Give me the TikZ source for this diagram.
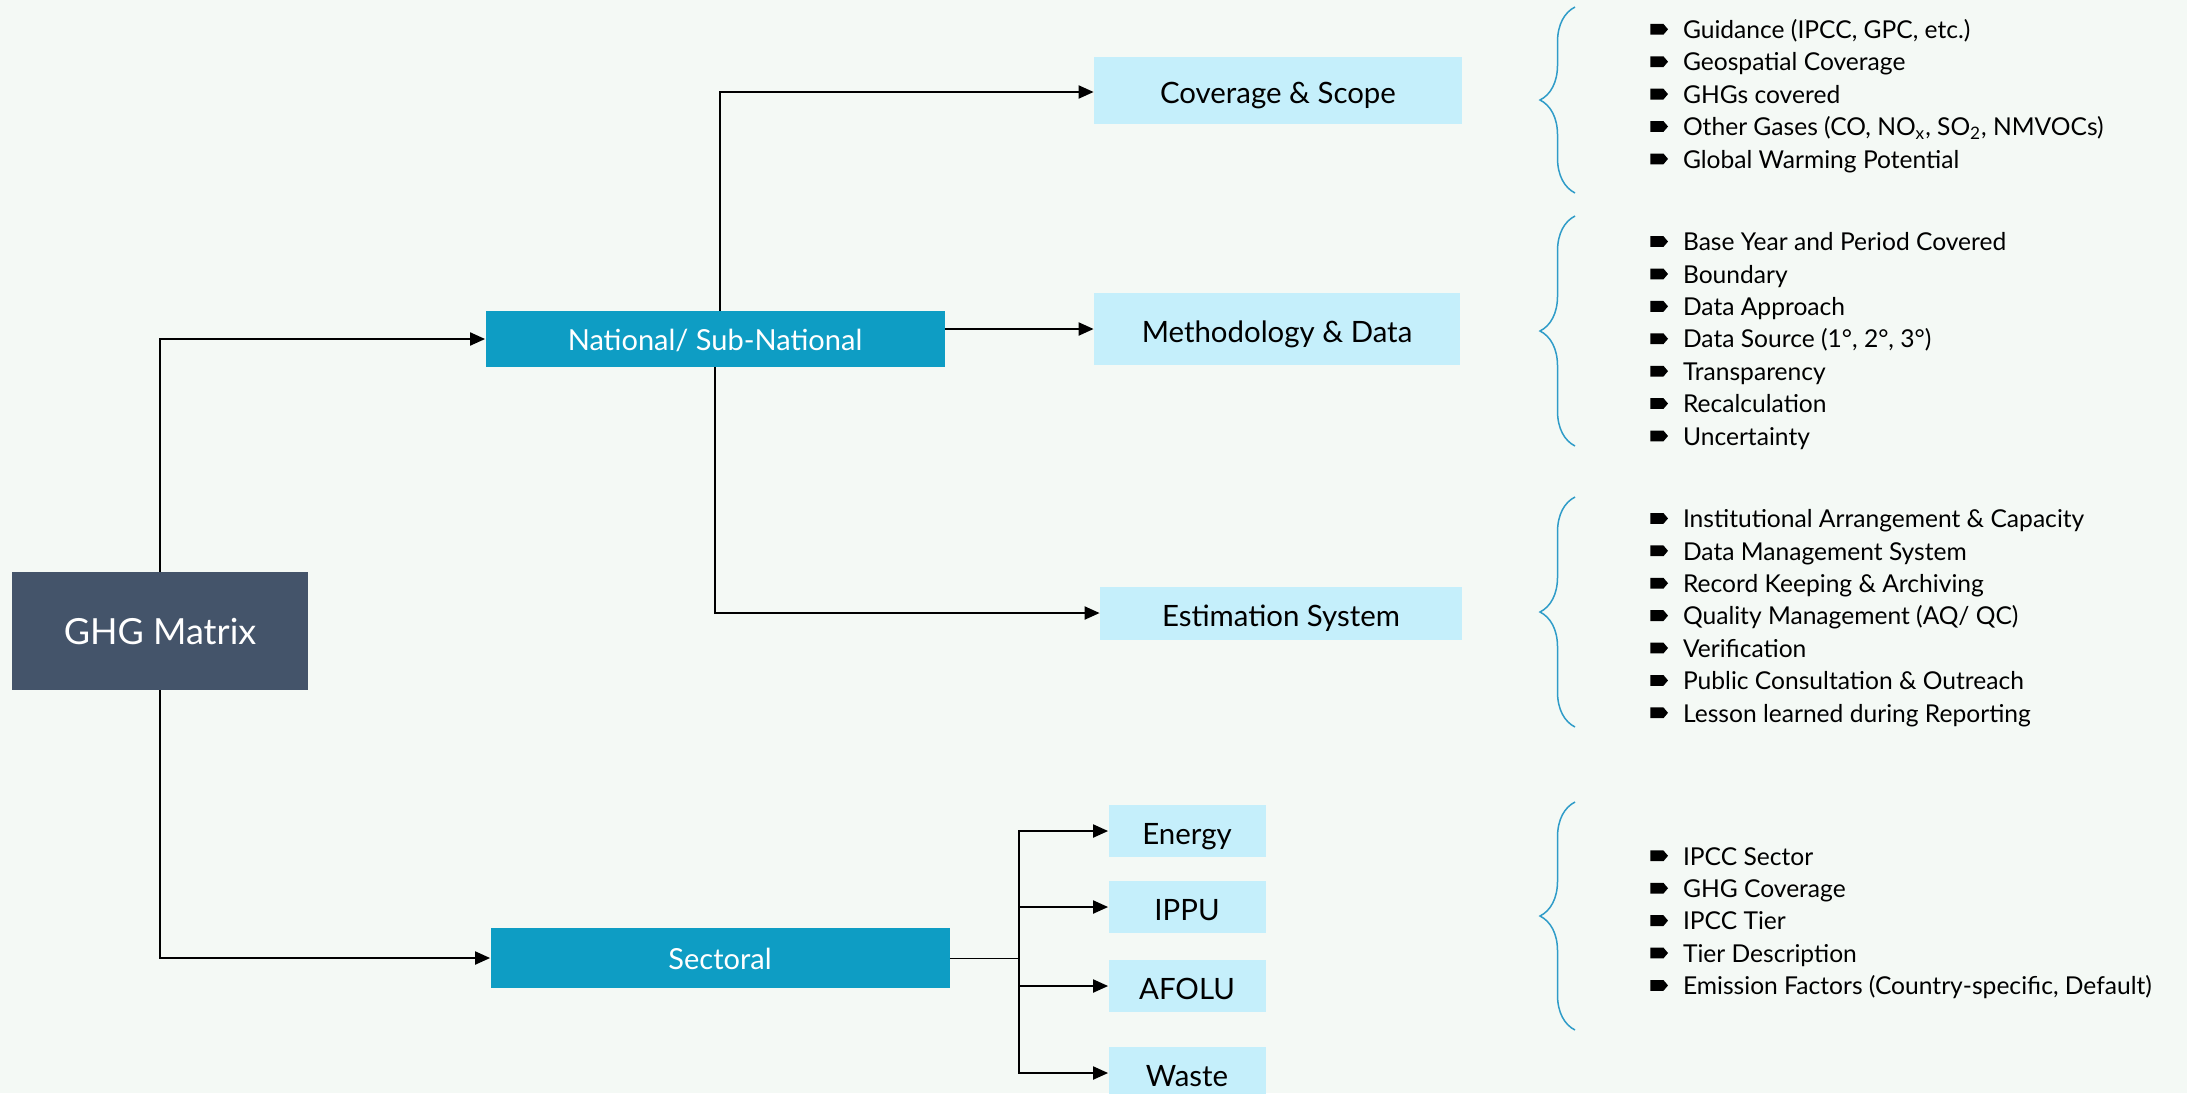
\documentclass[tikz,border=0pt]{standalone}
\usepackage{fontspec}
\setmainfont{Lato}
\usepackage{tikz}
\usetikzlibrary{arrows.meta,         % pointes de fleches
           decorations.pathreplacing} % pour les accolades
\definecolor{fond}{HTML}{F4F9F5}
\definecolor{ardoise}{HTML}{44546A}
\definecolor{bleu}{HTML}{0E9DC4}
\definecolor{ciel}{HTML}{C5EFFB}
\definecolor{accolade}{HTML}{2F9CC8}
\newcommand{\puce}{\tikz[baseline=-4.6pt]\fill(0,-2.7pt)--(6.5pt,-2.7pt)--(8.8pt,0)--(6.5pt,2.7pt)--(0,2.7pt)--cycle;\hspace{7.5pt}}

\begin{document}
\begin{tikzpicture}[x=0.5pt,y=-0.5pt,
  sombre/.style={fill=ardoise,text=white,inner sep=0},
  moyen/.style={fill=bleu,text=white,inner sep=0,text height=11pt,text depth=0pt,font=\fontsize{14.5}{16}\selectfont},
  clair/.style={fill=ciel,text=black,inner sep=0,text height=13pt,text depth=0pt,font=\fontsize{14.7}{16}\selectfont},
  liste/.style={anchor=west,align=left,inner sep=0,font=\fontsize{12.3}{16.2}\selectfont},
  arr/.style={line width=1pt,-{Triangle[length=7.5pt,width=6.5pt]}},
  accol/.style={draw=accolade,line width=0.75pt,decorate,decoration={brace,amplitude=17.5pt}}]
\fill[fond](0,0)rectangle(2187,1093);
\useasboundingbox(0,0)rectangle(2187,1093);
% boites
\node[sombre,minimum width=148pt,minimum height=59pt,font=\fontsize{18}{22}\selectfont](GHG)at(160,631){GHG Matrix};
\node[moyen,minimum width=229.5pt,minimum height=28pt](National)at(715,339){National/ Sub-National};
\node[moyen,minimum width=229.5pt,minimum height=30pt](Sectoral)at(720,958){Sectoral};
\node[clair,minimum width=184pt,minimum height=33.5pt](Coverage)at(1278,90){Coverage \& Scope};
\node[clair,minimum width=183pt,minimum height=36pt](Method)at(1277,329){Methodology \& Data};
\node[clair,minimum width=181pt,minimum height=26.5pt](Estim)at(1281,613){Estimation System};
\node[clair,minimum width=78.5pt,minimum height=26pt](Energy)at(1187,831){Energy};
\node[clair,minimum width=78.5pt,minimum height=26pt](IPPU)at(1187,907){IPPU};
\node[clair,minimum width=78.5pt,minimum height=26pt](AFOLU)at(1187,986){AFOLU};
\node[clair,minimum width=78.5pt,minimum height=26pt](Waste)at(1187,1073){Waste};
% fleches
\draw[arr](GHG.north)|-(National.west);
\draw[arr](GHG.south)|-(Sectoral.west);
\draw[arr]([xshift=2.5pt]National.north)|-([yshift=-1pt]Coverage.west);
\draw[arr](National.east|-Method.west)--(Method.west);
\draw[arr](National.south)|-(Estim.west);
\coordinate(split)at(1019,958);
\draw[line width=0.5pt](Sectoral.east)--(split);
\foreach \s in {Energy,IPPU,AFOLU,Waste}\draw[arr](split)|-(\s.west);
% accolades
\foreach \a/\b in {7/193,216/446,497/727,802/1030}\draw[accol](1575,\b)--(1575,\a);
% listes
\node[liste](covlist)at(1650,96){\puce Guidance (IPCC, GPC, etc.)\\\puce Geospatial Coverage\\\puce GHGs covered\\\puce Other Gases (CO, NO\textsubscript{x}, SO\textsubscript{2}, NMVOCs)\\\puce Global Warming Potential};
\node[liste](metlist)at(1650,341){\puce Base Year and Period Covered\\\puce Boundary\\\puce Data Approach\\\puce Data Source (1°, 2°, 3°)\\\puce Transparency\\\puce Recalculation\\\puce Uncertainty};
\node[liste](estlist)at(1650,618){\puce Institutional Arrangement \& Capacity\\\puce Data Management System\\\puce Record Keeping \& Archiving\\\puce Quality Management (AQ/ QC)\\\puce Verification\\\puce Public Consultation \& Outreach\\\puce Lesson learned during Reporting};
\node[liste](seclist)at(1650,923){\puce IPCC Sector\\\puce GHG Coverage\\\puce IPCC Tier\\\puce Tier Description\\\puce Emission Factors (Country-specific, Default)};
\end{tikzpicture}
\end{document}
